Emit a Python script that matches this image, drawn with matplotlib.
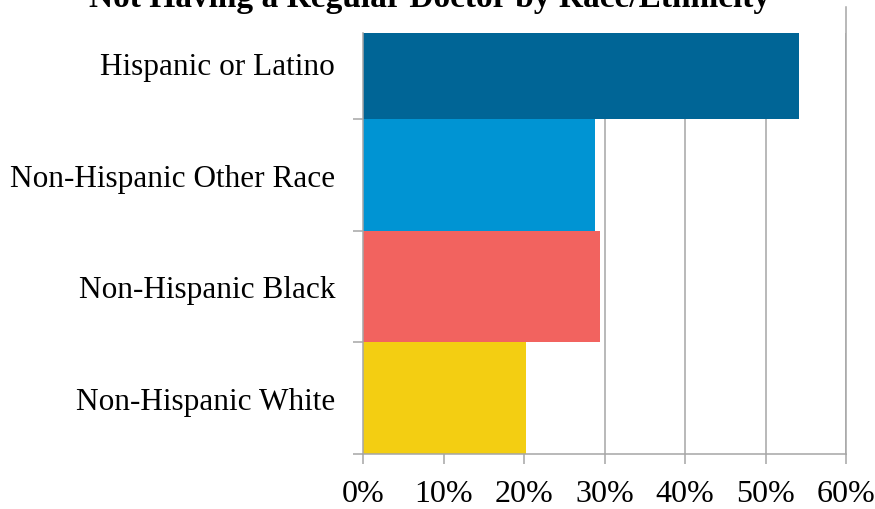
import matplotlib
matplotlib.use("Agg")
import matplotlib.pyplot as plt
from matplotlib.ticker import FixedLocator

# data (top to bottom)
groups = ["Hispanic or Latino", "Non-Hispanic Other Race", "Non-Hispanic Black", "Non-Hispanic White"]
pct = [54.1, 28.8, 29.4, 20.3]
colors = ["#006596", "#0094D3", "#F2635F", "#F3CE12"]
xticks = [0, 10, 20, 30, 40, 50, 60]
xlabels = ["0%", "10%", "20%", "30%", "40%", "50%", "60%"]
title = "Not Having a Regular Doctor by Race/Ethnicity"

plt.rcParams["font.family"] = ["Liberation Serif", "DejaVu Serif"]
grey = "#A6A6A6"

fig = plt.figure(figsize=(8.75, 5.1), dpi=100)
ax = fig.add_axes([363/875, 1 - 455/510, (846 - 363)/875, (455 - 34)/510])

ypos = list(range(len(groups)))[::-1]
ax.barh(ypos, pct, height=1.0, color=colors, zorder=2)

ax.set_xlim(0, 60)
# the top bar is cut by the plot top in the original
band = 111.75
ax.set_ylim(-0.5, -0.5 + (455 - 34) / band)
ax.set_xticks(xticks)
ax.set_xticklabels(xlabels, fontsize=23)
ax.set_yticks(ypos)
ax.set_yticklabels(groups, fontsize=22.5)
ax.yaxis.set_minor_locator(FixedLocator([y - 0.5 for y in range(len(groups))]))

ax.tick_params(axis="y", which="major", length=0, pad=20)
ax.tick_params(axis="y", which="minor", length=7.2, width=1.1, color=grey)
ax.tick_params(axis="x", length=7.2, width=1.1, color=grey, pad=11)

ax.grid(axis="x", color=grey, linewidth=1.1, zorder=0)
ax.set_axisbelow(True)
# rightmost gridline runs a bit above the plot in the original
ax.axvline(60, ymin=0, ymax=(455 - 8)/(455 - 34), color=grey, linewidth=1.1, clip_on=False, zorder=0)

for s in ["top", "right"]:
    ax.spines[s].set_visible(False)
for s in ["left", "bottom"]:
    ax.spines[s].set_color(grey)
    ax.spines[s].set_linewidth(1.1)

fig.text(430/875, 1 - 7/510, title, ha="center", va="baseline",
         fontsize=24, fontweight="bold")

fig.savefig("out.png", dpi=100)
